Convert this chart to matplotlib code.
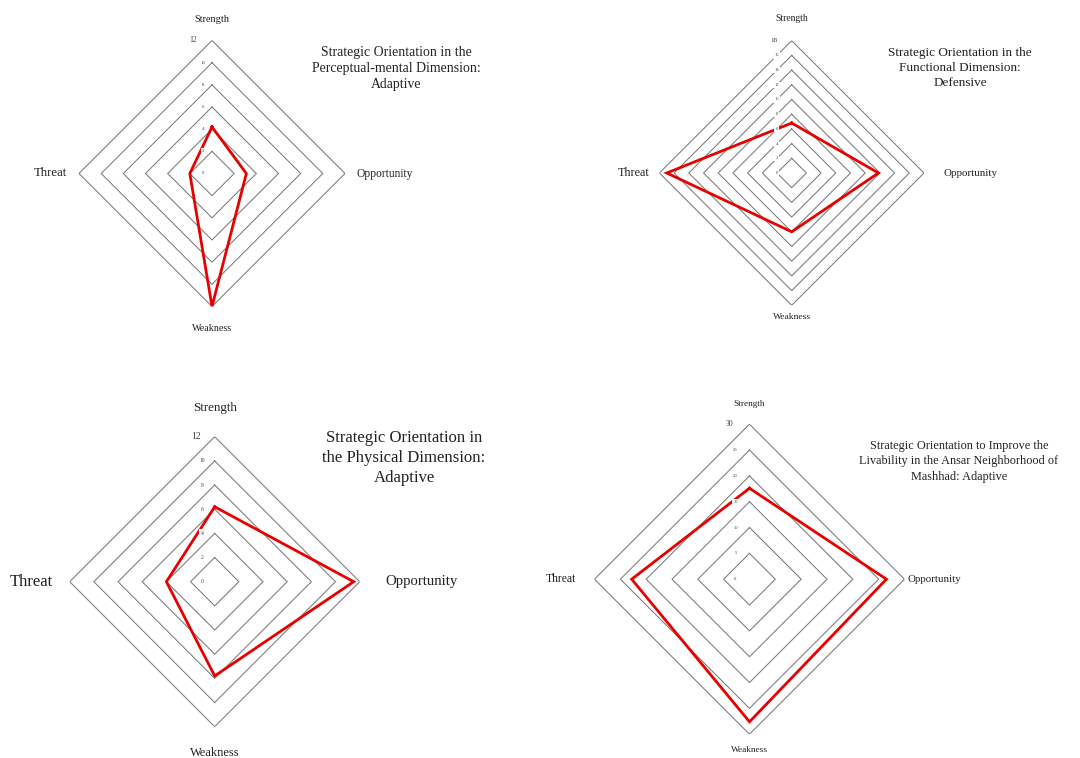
import numpy as np
import matplotlib
matplotlib.use("Agg")
import matplotlib.pyplot as plt

plt.rcParams['font.family'] = ['Liberation Serif', 'DejaVu Serif']

# ---------------- data ----------------
categories = ['Strength', 'Opportunity', 'Weakness', 'Threat']

perceptual_values = [4.2, 3.1, 12.0, 2.0]
functional_values = [6.8, 11.8, 8.0, 17.0]
physical_values = [6.2, 11.5, 7.8, 4.0]
livability_values = [17.6, 26.5, 27.6, 22.8]

perceptual_ticks = [0, 2, 4, 6, 8, 10, 12]
functional_ticks = [0, 2, 4, 6, 8, 10, 12, 14, 16, 18]
physical_ticks = [0, 2, 4, 6, 8, 10, 12]
livability_ticks = [0, 5, 10, 15, 20, 25, 30]

titles = [
    "Strategic Orientation in the\nPerceptual-mental Dimension:\nAdaptive",
    "Strategic Orientation in the\nFunctional Dimension:\nDefensive",
    "Strategic Orientation in\nthe Physical Dimension:\nAdaptive",
    "Strategic Orientation to Improve the\nLivability in the Ansar Neighborhood of\nMashhad: Adaptive",
]

W, H = 1080, 758
fig = plt.figure(figsize=(W / 100, H / 100), dpi=100)
fig.patch.set_facecolor('white')

PX = 72 / 100.0  # pixels -> points

specs = [
    dict(cx=212, cy=173.5, R=133, lfs=(7.4, 8.3, 7.2, 9.2), loff=(21, 40, 22, 29),
         toff=9, ttop=19, tfs=3.5, ttfs=5.5, tx=396, ty=68.5, tfsz=9.9, tls=1.32),
    dict(cx=791.7, cy=173, R=132.3, lfs=(6.9, 7.9, 6.8, 8.7), loff=(22, 46, 12, 26),
         toff=15, ttop=17.5, tfs=3.3, ttfs=5.2, tx=960, ty=68, tfsz=9.5, tls=1.33),
    dict(cx=214.7, cy=581.7, R=145, lfs=(9.4, 10.6, 9.0, 12.0), loff=(29, 62, 26, 38),
         toff=12.5, ttop=19, tfs=4.0, ttfs=7.0, tx=404, ty=458, tfsz=12.1, tls=1.33),
    dict(cx=749.5, cy=579.2, R=155, lfs=(6.7, 7.8, 6.7, 8.4), loff=(20, 30, 16, 33),
         toff=14, ttop=20.5, tfs=3.3, ttfs=5.5, tx=959, ty=461.5, tfsz=8.8, tls=1.36),
]

datasets = [
    (perceptual_values, perceptual_ticks),
    (functional_values, functional_ticks),
    (physical_values, physical_ticks),
    (livability_values, livability_ticks),
]

n = len(categories)
angles = np.linspace(0, 2 * np.pi, n, endpoint=False)
angles_closed = np.concatenate([angles, angles[:1]])

for (vals, ticks), sp, title in zip(datasets, specs, titles):
    cx, cy, R = sp['cx'], sp['cy'], sp['R']
    rect = [(cx - R) / W, (H - cy - R) / H, 2 * R / W, 2 * R / H]
    ax = fig.add_axes(rect, projection='polar')
    ax.set_theta_offset(np.pi / 2)
    ax.set_theta_direction(-1)
    rmax = ticks[-1]
    ax.set_ylim(0, rmax)
    ax.grid(False)
    ax.set_xticks([])
    ax.set_yticks([])
    ax.spines['polar'].set_visible(False)
    ax.patch.set_alpha(0)

    # diamond rings
    for t in ticks[1:]:
        ax.plot(angles_closed, [t] * (n + 1), color='#7a7a7a', lw=0.75, zorder=1)

    # data line
    v = list(vals) + [vals[0]]
    ax.plot(angles_closed, v, color='#e80000', lw=2.0, zorder=2,
            solid_joinstyle='miter')

    # tick labels along the Strength axis
    for t in ticks:
        top = (t == ticks[-1])
        off = sp['ttop'] if top else sp['toff']
        ax.annotate(str(t), xy=(0, t), xytext=(-off * PX, 0),
                    textcoords='offset points', ha='center', va='center',
                    fontsize=sp['ttfs'] if top else sp['tfs'], color='#404040',
                    annotation_clip=False, zorder=5,
                    bbox=dict(boxstyle='square,pad=0.25', fc='white', ec='none'))

    # category labels
    dirs = [(0, 1), (1, 0), (0, -1), (-1, 0)]
    for ang, cat, fs, off, (dx, dy) in zip(angles, categories, sp['lfs'], sp['loff'], dirs):
        ax.annotate(cat, xy=(ang, rmax), xytext=(dx * off * PX, dy * off * PX),
                    textcoords='offset points', ha='center', va='center',
                    fontsize=fs, color='#222222', annotation_clip=False)

    fig.text(sp['tx'] / W, 1 - sp['ty'] / H, title, ha='center', va='center',
             fontsize=sp['tfsz'], color='#222222', linespacing=sp['tls'],
             multialignment='center')

fig.savefig('out.png', dpi=100, facecolor='white')
